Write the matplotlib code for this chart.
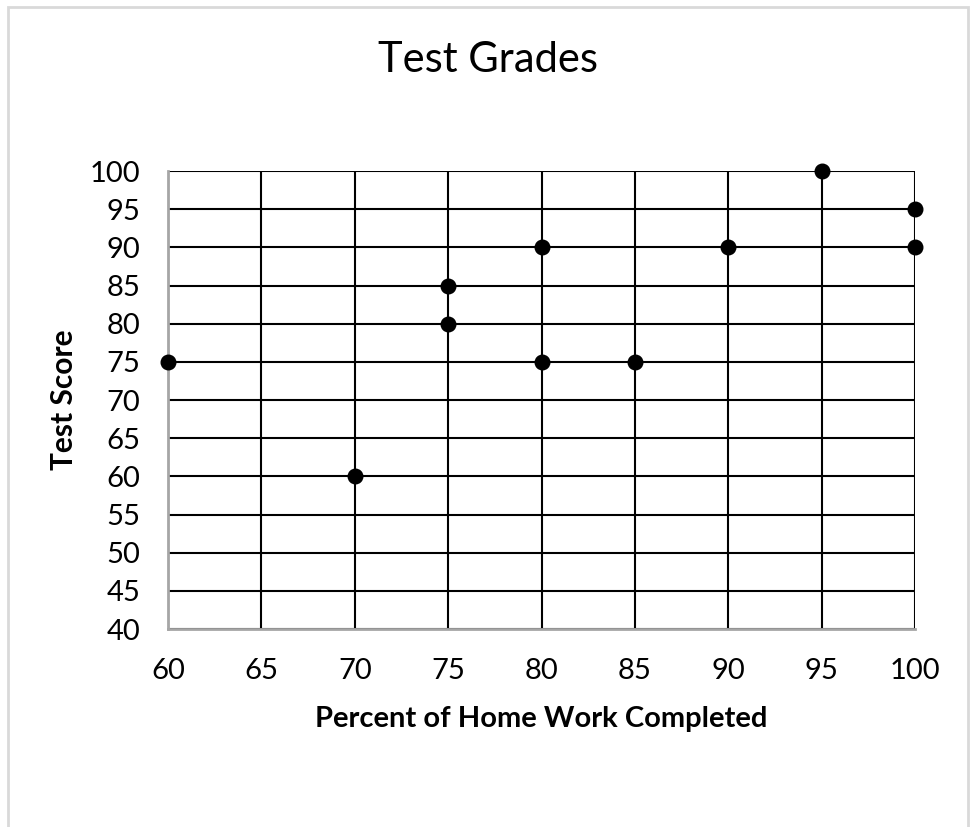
import matplotlib
matplotlib.use("Agg")
import matplotlib.pyplot as plt
from matplotlib.patches import Rectangle

plt.rcParams["font.family"] = ["Lato", "DejaVu Sans"]

# data
homework = [60, 70, 75, 75, 80, 80, 85, 90, 95, 100, 100]
score    = [75, 60, 85, 80, 90, 75, 75, 90, 100, 95, 90]
x_ticks = [60, 65, 70, 75, 80, 85, 90, 95, 100]
y_ticks = [40, 45, 50, 55, 60, 65, 70, 75, 80, 85, 90, 95, 100]

fig = plt.figure(figsize=(9.75, 8.27), dpi=100)
ax = fig.add_axes([0.1723, 0.2394, 0.9385 - 0.1723, 0.7932 - 0.2394])

# light grey chart-area border
fig.patches.append(Rectangle((8 / 975, -0.05), 960 / 975, (827 - 7) / 827 + 0.05,
                             transform=fig.transFigure, fill=False,
                             edgecolor="#d9d9d9", linewidth=2))

ax.scatter(homework, score, s=110, color="black", zorder=5, clip_on=False)

ax.set_xlim(60, 100)
ax.set_ylim(40, 100)
ax.set_xticks(x_ticks)
ax.set_yticks(y_ticks)
ax.grid(True, color="black", linewidth=1.5)
ax.set_axisbelow(True)
ax.tick_params(length=0, labelsize=21)
ax.tick_params(axis="y", pad=20)
ax.tick_params(axis="x", pad=21)
for side in ["top", "right"]:
    ax.spines[side].set_visible(False)
for side in ["left", "bottom"]:
    ax.spines[side].set_color("#a6a6a6")
    ax.spines[side].set_linewidth(2)

fig.text(0.5, (827 - 72) / 827, "Test Grades", fontsize=30, ha="center", va="baseline")
ax.set_xlabel("Percent of Home Work Completed", fontsize=21, fontweight="bold", labelpad=16)
ax.set_ylabel("Test Score", fontsize=21.5, fontweight="bold", labelpad=8)

fig.savefig("out.png", dpi=100)
